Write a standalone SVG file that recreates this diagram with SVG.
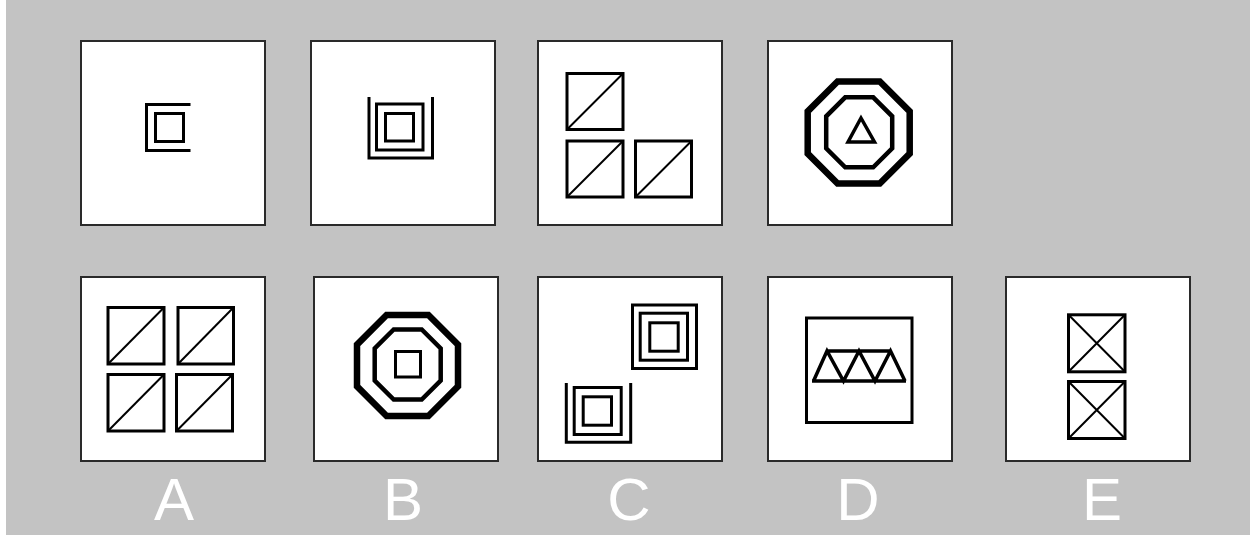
<svg xmlns="http://www.w3.org/2000/svg" width="1250" height="535" viewBox="0 0 1250 535">
<style>
.panel{fill:#fff;stroke:#2a2a2a;stroke-width:2}
.ln{fill:none;stroke:#000;stroke-width:3;stroke-linejoin:miter}
.dg{fill:none;stroke:#000;stroke-width:2}
.oct1{fill:none;stroke:#000;stroke-width:6.5}
.oct2{fill:none;stroke:#000;stroke-width:4.5}
.lbl{font-family:"Liberation Sans",Arial,sans-serif;font-size:60px;fill:#fff;text-anchor:middle}
</style>
<rect x="0" y="0" width="1250" height="535" fill="#fff"/>
<rect x="6" y="0" width="1244" height="535" fill="#c3c3c3"/>

<g id="p1">
<rect class="panel" x="81" y="41" width="184" height="184"/>
<path class="ln" d="M190.5,104.5 H146.5 V150.5 H190.5"/>
<rect class="ln" x="155.5" y="113.5" width="28" height="28"/>
</g>

<g id="p2">
<rect class="panel" x="311" y="41" width="184" height="184"/>
<path class="ln" d="M369,97 V158 H432.5 V97"/>
<rect class="ln" x="376.5" y="104" width="46.5" height="46"/>
<rect class="ln" x="385.5" y="113.5" width="28" height="27.5"/>
</g>

<g id="p3">
<rect class="panel" x="538" y="41" width="184" height="184"/>
<rect class="ln" x="567" y="73.5" width="56" height="56"/>
<line class="dg" x1="567" y1="129.5" x2="623" y2="73.5"/>
<rect class="ln" x="567" y="141" width="56" height="56"/>
<line class="dg" x1="567" y1="197" x2="623" y2="141"/>
<rect class="ln" x="635.5" y="141" width="56" height="56"/>
<line class="dg" x1="635.5" y1="197" x2="691.5" y2="141"/>
</g>

<g id="p4">
<rect class="panel" x="768" y="41" width="184" height="184"/>
<polygon class="oct1" points="837.6,81.5 879.8,81.5 909.7,111.4 909.7,153.6 879.8,183.5 837.6,183.5 807.7,153.6 807.7,111.4"/>
<polygon class="oct2" points="845.2,97.3 873.2,97.3 892.2,116.3 892.2,148.3 873.2,167.3 845.2,167.3 826.2,148.3 826.2,116.3"/>
<polygon class="ln" style="stroke-width:3.5" points="861,118 848,142 874.5,142"/>
</g>

<g id="pA">
<rect class="panel" x="81" y="277" width="184" height="184"/>
<rect class="ln" x="108" y="307.5" width="56" height="56.5"/>
<line class="dg" x1="108" y1="364" x2="164" y2="307.5"/>
<rect class="ln" x="178" y="307.5" width="55.5" height="56.5"/>
<line class="dg" x1="178" y1="364" x2="233.5" y2="307.5"/>
<rect class="ln" x="108" y="374.5" width="56" height="56.5"/>
<line class="dg" x1="108" y1="431" x2="164" y2="374.5"/>
<rect class="ln" x="176.5" y="374.5" width="56" height="56.5"/>
<line class="dg" x1="176.5" y1="431" x2="232.5" y2="374.5"/>
</g>

<g id="pB">
<rect class="panel" x="314" y="277" width="184" height="184"/>
<polygon class="oct1" points="386.6,315 428.4,315 458,344.6 458,386.4 428.4,416 386.6,416 357,386.4 357,344.6"/>
<polygon class="oct2" points="393.7,329.5 421.7,329.5 440.7,348.5 440.7,380.5 421.7,399.5 393.7,399.5 374.7,380.5 374.7,348.5"/>
<rect class="ln" x="395.5" y="351.5" width="25" height="25.5"/>
</g>

<g id="pC">
<rect class="panel" x="538" y="277" width="184" height="184"/>
<rect class="ln" x="632.5" y="305" width="64" height="63.5"/>
<rect class="ln" x="640.2" y="313.2" width="47.3" height="47"/>
<rect class="ln" x="649.8" y="322.8" width="28.4" height="28.4"/>
<path class="ln" d="M566.3,383 V442.2 H630.7 V383"/>
<rect class="ln" x="574.2" y="387.5" width="47" height="47"/>
<rect class="ln" x="583.2" y="396.8" width="28.3" height="28.4"/>
</g>

<g id="pD">
<rect class="panel" x="768" y="277" width="184" height="184"/>
<rect class="ln" x="806.5" y="318" width="105.5" height="104.5"/>
<path class="ln" style="stroke-width:3.5" d="M812,381 H906 M827,351 H890.5 M813.5,381 L827,351 L843.5,381 L859,351 L875,381 L890.5,351 L905,381"/>
</g>

<g id="pE">
<rect class="panel" x="1006" y="277" width="184" height="184"/>
<rect class="ln" x="1068.5" y="314.8" width="56.5" height="57"/>
<path class="dg" d="M1068.5,314.8 L1125,371.8 M1125,314.8 L1068.5,371.8"/>
<rect class="ln" x="1068.5" y="381.5" width="56.5" height="57"/>
<path class="dg" d="M1068.5,381.5 L1125,438.5 M1125,381.5 L1068.5,438.5"/>
</g>

<g id="labels">
<text class="lbl" x="174" y="520">A</text>
<text class="lbl" x="403" y="520">B</text>
<text class="lbl" x="629" y="520">C</text>
<text class="lbl" x="858" y="520">D</text>
<text class="lbl" x="1102" y="520">E</text>
</g>
</svg>
